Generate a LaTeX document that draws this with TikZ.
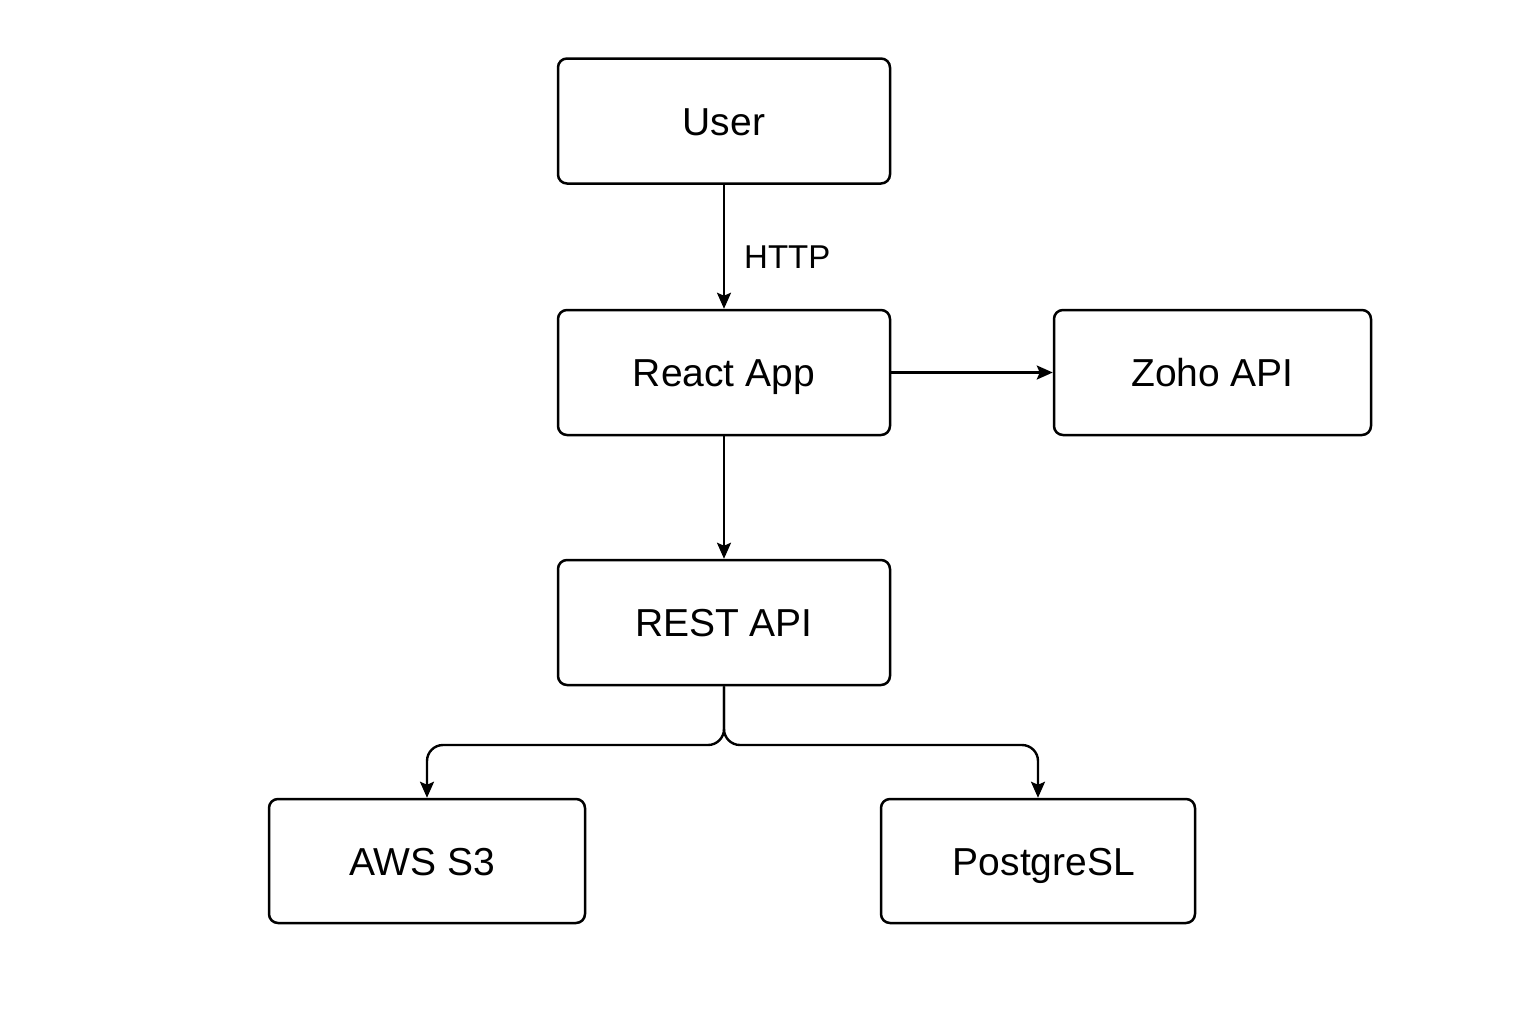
\documentclass[tikz,border=0pt]{standalone}
\usepackage{fontspec}
\setmainfont{Liberation Sans}
\usetikzlibrary{arrows.meta}
\begin{document}
\begin{tikzpicture}[x=0.5pt,y=-0.5pt,
  box/.style={draw=black,line width=1.25pt,rounded corners=4.5pt,minimum width=166pt,minimum height=62.5pt,inner sep=0pt,text height=14pt,text depth=0pt,font=\fontsize{19.5}{22}\selectfont},
  conn/.style={draw=black,line width=1.2pt,-{Stealth[length=8pt,width=7pt,inset=1.5pt]}}]
\useasboundingbox (0,0) rectangle (1536,1024);
\node[box] (user) at (724,121) {User};
\node[box] (react) at (724,372.5) {React App};
\node[box,minimum width=158.5pt] (zoho) at (1212.5,372.5) {Zoho API};
\node[box] (rest) at (724,622.5) {REST API};
\node[box,minimum width=158pt,minimum height=62pt] (aws) at (427,861) {\hspace*{-5pt}AWS S3};
\node[box,minimum width=157pt,minimum height=62pt] (pg) at (1038,861) {\hspace*{6pt}PostgreSL};
\coordinate (branch) at (724,745);
\draw[conn] (user) -- node[pos=0.58,anchor=west,inner sep=0pt,xshift=9.5pt,font=\fontsize{16.5}{19}\selectfont] {HTTP} (react);
\draw[conn] (react) -- (zoho);
\draw[conn] (react) -- (rest);
\draw[conn,rounded corners=8pt] (rest.south) -- (branch) -| (aws.north);
\draw[conn,rounded corners=8pt] (rest.south) -- (branch) -| (pg.north);
\end{tikzpicture}
\end{document}
